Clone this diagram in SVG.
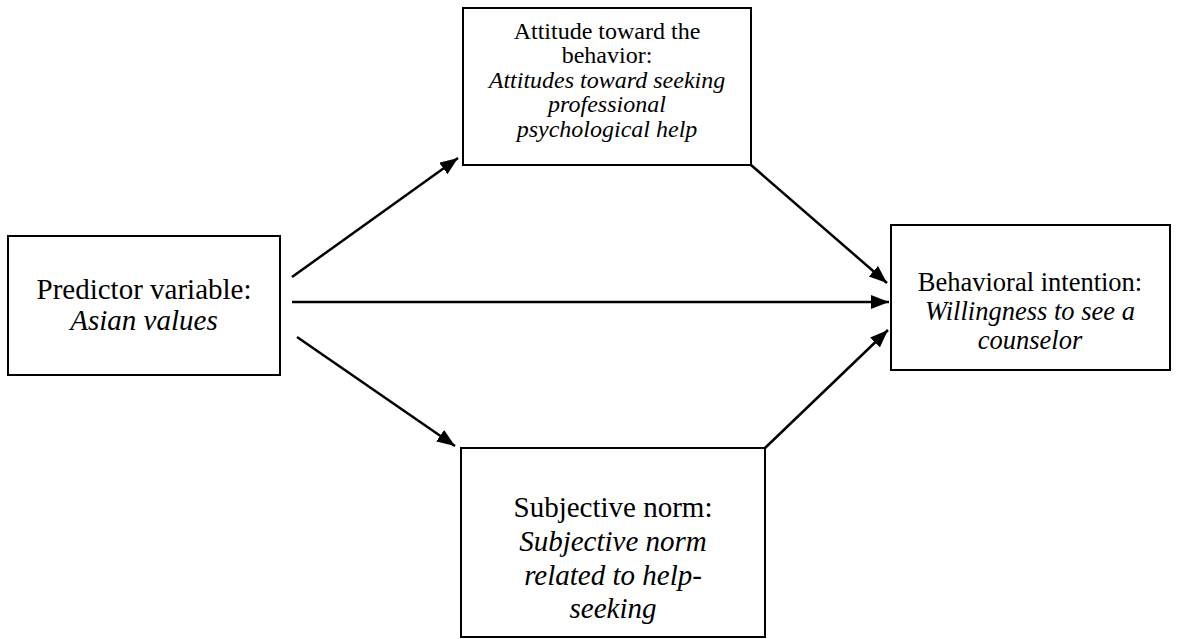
<svg xmlns="http://www.w3.org/2000/svg" width="1179" height="639" viewBox="0 0 1179 639">
<style>
.box{fill:#fff;stroke:#000;stroke-width:2}
.t{font-family:"Liberation Serif","Times New Roman",serif;fill:#000;text-anchor:middle}
.i{font-style:italic}
.c{stroke:#000;stroke-width:2.5;fill:none}
</style>
<defs>
<marker id="ah" markerUnits="userSpaceOnUse" markerWidth="20" markerHeight="16" refX="18" refY="7" orient="auto">
<path d="M0,0 L18,7 L0,14 Z" fill="#000"/>
</marker>
</defs>
<rect width="1179" height="639" fill="#fff"/>
<g id="connectors">
<line class="c" x1="292" y1="277" x2="458" y2="158" marker-end="url(#ah)"/>
<line class="c" x1="751" y1="165" x2="887" y2="283" marker-end="url(#ah)"/>
<line class="c" x1="292" y1="302" x2="889" y2="302" marker-end="url(#ah)"/>
<line class="c" x1="297" y1="337" x2="455" y2="446" marker-end="url(#ah)"/>
<line class="c" x1="765" y1="448" x2="888" y2="330" marker-end="url(#ah)"/>
</g>
<g id="predictor">
<rect class="box" x="8" y="236" width="272" height="139"/>
<text class="t" x="144" y="299" font-size="29">Predictor variable:</text>
<text class="t i" x="144" y="330" font-size="29">Asian values</text>
</g>
<g id="attitude">
<rect class="box" x="463" y="8" width="288" height="157"/>
<text class="t" x="607" y="39" font-size="24">Attitude toward the</text>
<text class="t" x="607" y="63" font-size="24">behavior:</text>
<text class="t i" x="607" y="88" font-size="24">Attitudes toward seeking</text>
<text class="t i" x="607" y="112" font-size="24">professional</text>
<text class="t i" x="607" y="137" font-size="24">psychological help</text>
</g>
<g id="intention">
<rect class="box" x="891" y="225" width="279" height="145"/>
<text class="t" x="1030" y="291" font-size="26.5">Behavioral intention:</text>
<text class="t i" x="1030" y="320" font-size="26.5">Willingness to see a</text>
<text class="t i" x="1030" y="349" font-size="26.5">counselor</text>
</g>
<g id="norm">
<rect class="box" x="461" y="448" width="304" height="189"/>
<text class="t" x="613" y="517" font-size="29">Subjective norm:</text>
<text class="t i" x="613" y="551" font-size="29">Subjective norm</text>
<text class="t i" x="613" y="585" font-size="29">related to help-</text>
<text class="t i" x="613" y="618" font-size="29">seeking</text>
</g>
</svg>
